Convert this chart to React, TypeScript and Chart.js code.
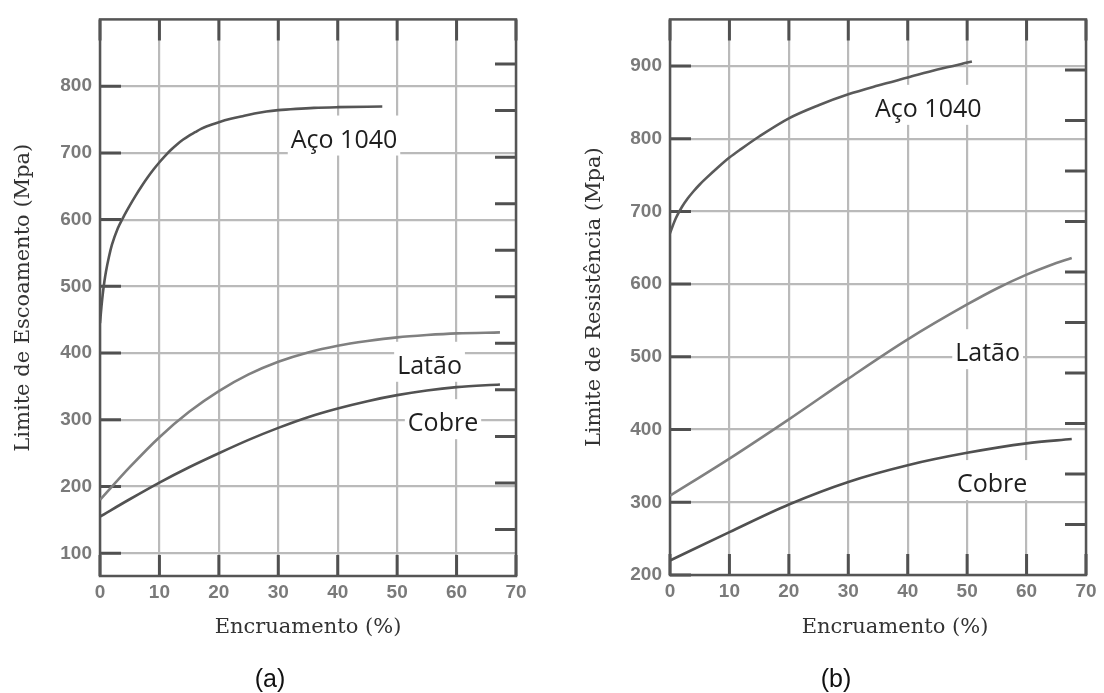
import React, { useEffect, useRef } from 'react';
import { Chart, registerables } from 'chart.js';

Chart.register(...registerables);

// ---------- data ----------
const xTickValues = [0, 10, 20, 30, 40, 50, 60, 70];
const leftYTicks = [100, 200, 300, 400, 500, 600, 700, 800];
const rightYTicks = [200, 300, 400, 500, 600, 700, 800, 900];
const leftKsiTicks = [20, 30, 40, 50, 60, 70, 80, 90, 100, 110, 120];
const rightKsiTicks = [40, 50, 60, 70, 80, 90, 100, 110, 120, 130];

// (a) Limite de Escoamento
const aSteelX = [0, 0.25, 0.5, 0.75, 1, 1.5, 2, 3, 4, 5, 6, 7, 8, 9, 10, 11, 12, 13, 14, 15, 16, 17, 18, 20, 22, 24, 26, 28, 30, 33, 36, 40, 47.5];
const aSteelY = [445, 470, 491, 508, 522, 544, 562, 587, 605, 621, 636, 650, 663, 675, 686, 696, 705, 713, 720, 726, 731, 736, 740, 746, 751, 755, 759, 762, 764, 766, 767.5, 768.5, 769.5];
const aBrassX = [0, 5, 10, 15, 20, 25, 30, 35, 40, 45, 50, 55, 60, 67.3];
const aBrassY = [180, 229, 274, 312, 343, 368, 387, 401, 411, 418, 423.5, 427, 429.5, 431];
const aCopperX = [0, 5, 10, 15, 20, 25, 30, 35, 40, 45, 50, 55, 60, 67.3];
const aCopperY = [155, 181, 206, 229, 250, 270, 288, 304, 317, 328, 337, 344, 349, 353];

// (b) Limite de Resistência
const bSteelX = [0, 0.5, 1, 2, 3, 4, 5, 6, 8, 10, 12, 15, 20, 25, 30, 35, 40, 45, 50.8];
const bSteelY = [670, 681, 691, 706, 718, 728, 737, 745, 760, 774, 786, 803, 828, 846, 861, 873, 884, 895, 906];
const bBrassX = [0, 10, 20, 30, 40, 50, 55, 60, 64, 67.6];
const bBrassY = [309, 360, 414, 470, 524, 572, 594, 613, 626, 636];
const bCopperX = [0, 10, 20, 30, 40, 50, 60, 67.6];
const bCopperY = [220, 259, 297, 328, 351, 368, 381, 387];

// curve labels (data coordinates: left edge of text, baseline)
const labelTexts = ['Aço 1040', 'Latão', 'Cobre'];
const aLabelX = [32.1, 50.0, 51.8];
const aLabelY = [708, 369, 283];
const bLabelX = [34.5, 48.0, 48.3];
const bLabelY = [830, 494, 314];

// ---------- styles ----------
const GRID = '#bababa';
const FRAME = '#555555';
const TICK = '#505050';
const TICK_FONT = { family: '"Liberation Sans", Arial, sans-serif', size: 19, weight: 'bold' as const };
const TICK_COLOR = '#7a7a7a';
const LABEL_FONT = '25px "Open Sans", sans-serif';
const INNER_TICK = 21;

type Series = { xs: number[]; ys: number[]; color: string };
type Panel = {
  yMin: number; yMax: number; yTicks: number[];
  ksiMin: number; ksiMax: number; ksiTicks: number[];
  yTitle: string;
  series: Series[];
  labelX: number[]; labelY: number[];
  yAxisWidth: number; padRight: number; padBottom: number; yTitlePad: number;
};

const panels: Panel[] = [
  {
    yMin: 66, yMax: 900, yTicks: leftYTicks,
    ksiMin: 10, ksiMax: 129.6, ksiTicks: leftKsiTicks,
    yTitle: 'Limite de Escoamento (Mpa)',
    series: [
      { xs: aSteelX, ys: aSteelY, color: '#555555' },
      { xs: aBrassX, ys: aBrassY, color: '#808080' },
      { xs: aCopperX, ys: aCopperY, color: '#525252' },
    ],
    labelX: aLabelX, labelY: aLabelY,
    yAxisWidth: 100, padRight: 36, padBottom: 77, yTitlePad: 11,
  },
  {
    yMin: 200, yMax: 964, yTicks: rightYTicks,
    ksiMin: 30, ksiMax: 140, ksiTicks: rightKsiTicks,
    yTitle: 'Limite de Resistência (Mpa)',
    series: [
      { xs: bSteelX, ys: bSteelY, color: '#5a5a5a' },
      { xs: bBrassX, ys: bBrassY, color: '#808080' },
      { xs: bCopperX, ys: bCopperY, color: '#505050' },
    ],
    labelX: bLabelX, labelY: bLabelY,
    yAxisWidth: 118, padRight: 18, padBottom: 78, yTitlePad: 30,
  },
];

function makeDecor(p: Panel) {
  return {
    id: 'decor',
    beforeDatasetsDraw(chart: any) {
      const { ctx, chartArea: a, scales } = chart;
      const sx = scales.x, sy = scales.y, s2 = scales.y2;
      ctx.save();
      // white boxes behind labels
      ctx.font = LABEL_FONT;
      labelTexts.forEach((t, i) => {
        const px = sx.getPixelForValue(p.labelX[i]);
        const py = sy.getPixelForValue(p.labelY[i]);
        const w = ctx.measureText(t).width;
        ctx.fillStyle = '#ffffff';
        ctx.fillRect(px - 3, py - 32, w + 6, 40);
      });
      // inner ticks
      ctx.strokeStyle = TICK;
      ctx.lineWidth = 3;
      ctx.beginPath();
      sx.ticks.forEach((t: any) => {
        const px = sx.getPixelForValue(t.value);
        ctx.moveTo(px, a.top); ctx.lineTo(px, a.top + INNER_TICK);
        ctx.moveTo(px, a.bottom); ctx.lineTo(px, a.bottom - INNER_TICK);
      });
      sy.ticks.forEach((t: any) => {
        const py = sy.getPixelForValue(t.value);
        ctx.moveTo(a.left, py); ctx.lineTo(a.left + INNER_TICK, py);
      });
      s2.ticks.forEach((t: any) => {
        const py = s2.getPixelForValue(t.value);
        ctx.moveTo(a.right, py); ctx.lineTo(a.right - INNER_TICK, py);
      });
      ctx.stroke();
      // frame
      ctx.lineWidth = 2.5;
      ctx.strokeStyle = FRAME;
      ctx.strokeRect(a.left, a.top, a.right - a.left, a.bottom - a.top);
      ctx.restore();
    },
    afterDatasetsDraw(chart: any) {
      const { ctx, scales } = chart;
      ctx.save();
      ctx.font = LABEL_FONT;
      ctx.fillStyle = '#1e1e1e';
      ctx.textAlign = 'left';
      ctx.textBaseline = 'alphabetic';
      labelTexts.forEach((t, i) => {
        ctx.fillText(t, scales.x.getPixelForValue(p.labelX[i]), scales.y.getPixelForValue(p.labelY[i]));
      });
      ctx.restore();
    },
  };
}

function ChartPanel({ p }: { p: Panel }) {
  const ref = useRef<HTMLCanvasElement | null>(null);
  useEffect(() => {
    if (!ref.current) return;
    const chart = new Chart(ref.current, {
      type: 'line',
      data: {
        datasets: p.series.map((s) => ({
          data: s.xs.map((x, i) => ({ x, y: s.ys[i] })),
          borderColor: s.color,
          borderWidth: 2.6,
          pointRadius: 0,
          fill: false,
          cubicInterpolationMode: 'monotone' as const,
        })),
      },
      options: {
        animation: false,
        responsive: false,
        maintainAspectRatio: false,
        layout: { padding: { left: 0, top: 14, right: p.padRight, bottom: p.padBottom } },
        plugins: { legend: { display: false }, tooltip: { enabled: false }, title: { display: false } },
        scales: {
          x: {
            type: 'linear',
            min: 0,
            max: 70,
            afterBuildTicks: (s: any) => { s.ticks = xTickValues.map((v) => ({ value: v })); },
            afterFit: (s: any) => { s.height = 40; },
            grid: { color: GRID, lineWidth: 2.2, drawTicks: false },
            border: { display: false },
            ticks: { color: TICK_COLOR, font: TICK_FONT, padding: 5, maxRotation: 0 },
          },
          y: {
            type: 'linear',
            min: p.yMin,
            max: p.yMax,
            afterBuildTicks: (s: any) => { s.ticks = p.yTicks.map((v) => ({ value: v })); },
            afterFit: (s: any) => { s.width = p.yAxisWidth; },
            grid: { color: GRID, lineWidth: 2.2, drawTicks: false },
            border: { display: false },
            ticks: { color: TICK_COLOR, font: TICK_FONT, padding: 8 },
            title: {
              display: true,
              text: p.yTitle,
              color: '#333333',
              font: { family: '"DejaVu Serif", serif', size: 21 },
              padding: { top: p.yTitlePad, bottom: 0 },
            },
          },
          y2: {
            type: 'linear',
            position: 'right',
            min: p.ksiMin,
            max: p.ksiMax,
            afterBuildTicks: (s: any) => { s.ticks = p.ksiTicks.map((v) => ({ value: v })); },
            afterFit: (s: any) => { s.width = 0; },
            grid: { display: false, drawTicks: false },
            border: { display: false },
            ticks: { display: false },
          },
        },
      },
      plugins: [makeDecor(p)],
    } as any);
    return () => chart.destroy();
  }, [p]);
  return <canvas ref={ref} width={552} height={693} style={{ display: 'block' }} />;
}

const textBase: React.CSSProperties = {
  position: 'absolute',
  transform: 'translate(-50%, -50%)',
  whiteSpace: 'nowrap',
  lineHeight: 1,
};

export default function App() {
  return (
    <div style={{ position: 'fixed', left: 0, top: 0, width: 1104, height: 693, background: '#ffffff', overflow: 'hidden' }}>
      <div style={{ position: 'absolute', left: 0, top: 0 }}>
        <ChartPanel p={panels[0]} />
      </div>
      <div style={{ position: 'absolute', left: 552, top: 0 }}>
        <ChartPanel p={panels[1]} />
      </div>
      <div style={{ ...textBase, left: 308, top: 626, font: '21px "DejaVu Serif", serif', color: '#333' }}>Encruamento (%)</div>
      <div style={{ ...textBase, left: 895, top: 626, font: '21px "DejaVu Serif", serif', color: '#333' }}>Encruamento (%)</div>
      <div style={{ ...textBase, left: 270, top: 678, font: '25px "Liberation Sans", Arial, sans-serif', color: '#111' }}>(a)</div>
      <div style={{ ...textBase, left: 836, top: 678, font: '25px "Liberation Sans", Arial, sans-serif', color: '#111' }}>(b)</div>
    </div>
  );
}
